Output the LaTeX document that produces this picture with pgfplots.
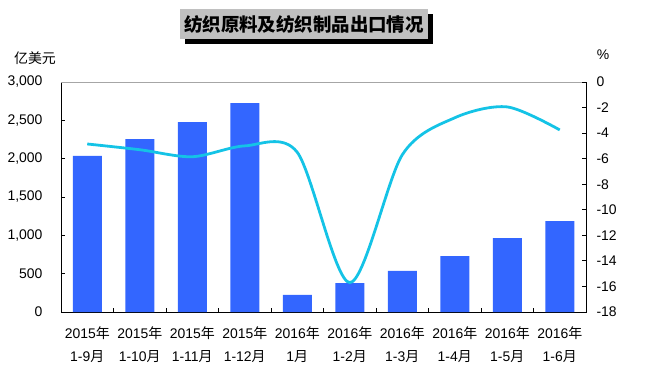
\documentclass[border=0pt]{standalone}
\usepackage{pgfplots}
\pgfplotsset{compat=1.18}
\usepackage{fontspec}
\setmainfont{Liberation Sans}
\newfontfamily\cjk{Noto Sans CJK SC}
\newcommand\nian{{\cjk 年}}
\newcommand\yue{{\cjk 月}}
\definecolor{barblue}{RGB}{51,102,255}
\definecolor{linecyan}{RGB}{20,195,230}
\definecolor{titlegray}{RGB}{192,192,192}
\begin{document}
\begin{tikzpicture}[x=1bp,y=1bp]
\useasboundingbox (0,0) rectangle (648,383);
\fill[black] (185,339) rectangle (433,369);
\fill[titlegray] (180,344) rectangle (428,374);
\node at (304,359) {\cjk\bfseries\fontsize{18.5}{20}\selectfont 纺织原料及纺织制品出口情况};
\node at (35,325) {\cjk\fontsize{14}{15}\selectfont 亿美元};
\node at (603,328) {\fontsize{14}{15}\selectfont \%};
\begin{axis}[
  at={(61bp,71bp)}, anchor=south west, scale only axis,
  width=525bp, height=230bp,
  xmin=-0.5, xmax=9.5, ymin=0, ymax=3000,
  ytick={0,500,...,3000},
  xtick={0,...,9},
  xticklabels={{2015\nian\\1-9\yue},{2015\nian\\1-10\yue},{2015\nian\\1-11\yue},{2015\nian\\1-12\yue},{2016\nian\\1\yue},{2016\nian\\1-2\yue},{2016\nian\\1-3\yue},{2016\nian\\1-4\yue},{2016\nian\\1-5\yue},{2016\nian\\1-6\yue}},
  major x tick style={draw=none},
  minor xtick={0.5,1.5,...,8.5},
  minor tick length=4bp, major tick length=4bp,
  tick align=inside,
  xtick pos=bottom, ytick pos=left,
  tick style={black, line width=0.8pt},
  axis line style={black, line width=0.8pt},
  xticklabel style={align=center, font=\fontsize{14}{23}\selectfont, yshift=-11bp},
  yticklabel style={font=\fontsize{14}{15}\selectfont, xshift=-15bp},
  /pgf/number format/.cd, 1000 sep={,}, assume math mode=true,
]
\addplot[ybar, bar width=29bp, fill=barblue, draw=none] coordinates {
(0,2035) (1,2256) (2,2478) (3,2725) (4,222) (5,378) (6,535) (7,730) (8,965) (9,1187)};
\draw[gray!70, line width=0.8pt] (rel axis cs:0,1) -- (rel axis cs:1,1);
\end{axis}
\begin{axis}[
  at={(61bp,71bp)}, anchor=south west, scale only axis,
  width=525bp, height=230bp,
  xmin=-0.5, xmax=9.5, ymin=-18, ymax=0,
  ytick={-18,-16,...,0},
  hide x axis,
  axis y line*=right,
  axis line style={-, black, line width=0.8pt},
  tick align=inside, major tick length=4bp,
  tick style={black, line width=0.8pt},
  yticklabel style={font=\fontsize{14}{15}\selectfont, anchor=west, xshift=7bp},
  /pgf/number format/.cd, assume math mode=true,
]
\addplot[linecyan, line width=2.8pt, smooth, no marks] coordinates {
(0,-4.85) (1,-5.3) (2,-5.85) (3,-5.0) (4,-5.5) (5,-15.7) (6,-5.7) (7,-2.8) (8,-1.95) (9,-3.75)};
\end{axis}
\end{tikzpicture}
\end{document}
